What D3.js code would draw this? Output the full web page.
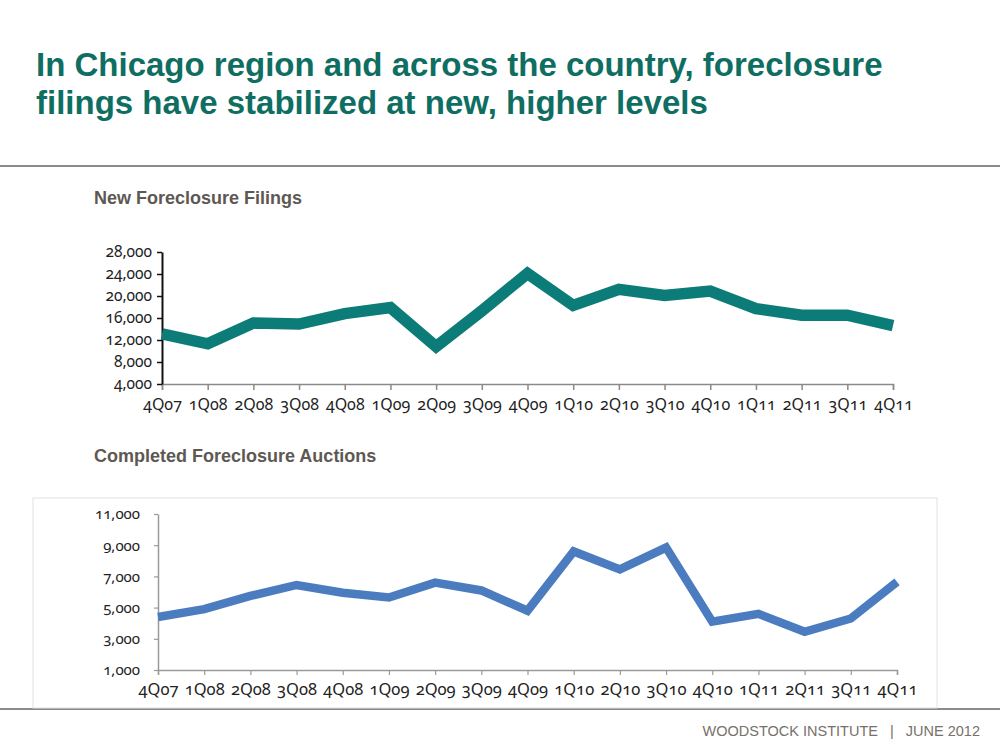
<!DOCTYPE html>
<head>
  <meta charset="utf-8">
  <script src="https://d3js.org/d3.v7.min.js"></script>
  <style>
    html, body { margin: 0; padding: 0; background: #fff; }
    .tick text { font-family: "Noto Sans", "Open Sans", sans-serif; font-variant-numeric: oldstyle-nums; fill: #222; }
  </style>
</head>
<body>
  <div id="chart"></div>
</body>
<script>
  // quarters shared by both charts
  const quarters = ["4Q07","1Q08","2Q08","3Q08","4Q08","1Q09","2Q09","3Q09","4Q09",
                    "1Q10","2Q10","3Q10","4Q10","1Q11","2Q11","3Q11","4Q11"];

  // New foreclosure filings
  const filings = [13100, 11300, 15100, 14900, 16800, 17900, 10800, 17300, 24100,
                   18300, 21200, 20100, 20900, 17700, 16500, 16500, 14600];
  const filingTicks = [4000, 8000, 12000, 16000, 20000, 24000, 28000];

  // Completed foreclosure auctions
  const auctions = [4400, 4900, 5750, 6450, 5950, 5650, 6600, 6100, 4800,
                    8600, 7450, 8850, 4100, 4600, 3450, 4300, 6650];
  const auctionTicks = [1000, 3000, 5000, 7000, 9000, 11000];

  const W = 1000, H = 748;
  const fmt = d3.format(",");

  const svg = d3.select("#chart").append("svg")
    .attr("width", W).attr("height", H);

  // Title
  const title = svg.append("text")
    .style("font-family", "Liberation Sans, Arial, sans-serif")
    .style("font-weight", "bold")
    .style("font-size", "33px")
    .style("fill", "#0f6e62");
  title.append("tspan").attr("x", 36).attr("y", 76)
    .text("In Chicago region and across the country, foreclosure");
  title.append("tspan").attr("x", 36).attr("y", 114)
    .text("filings have stabilized at new, higher levels");

  // rules
  svg.append("line").attr("x1", 0).attr("x2", W).attr("y1", 166).attr("y2", 166)
    .attr("stroke", "#8a8a8a").attr("stroke-width", 2);
  svg.append("line").attr("x1", 0).attr("x2", W).attr("y1", 709).attr("y2", 709)
    .attr("stroke", "#8a8a8a").attr("stroke-width", 2);

  // Footer
  svg.append("text")
    .attr("x", 980).attr("y", 736)
    .attr("text-anchor", "end")
    .attr("xml:space", "preserve")
    .style("font-family", "Liberation Sans, Arial, sans-serif")
    .style("font-size", "14.5px")
    .style("fill", "#77716b")
    .text("WOODSTOCK INSTITUTE   |   JUNE 2012");

  // subtitles
  const subStyle = sel => sel
    .style("font-family", "Liberation Sans Narrow, Arial Narrow, Liberation Sans, sans-serif")
    .style("font-weight", "bold")
    .style("font-size", "18px")
    .style("fill", "#5e5853");
  svg.append("text").attr("x", 94).attr("y", 204).text("New Foreclosure Filings").call(subStyle);
  svg.append("text").attr("x", 94).attr("y", 462).text("Completed Foreclosure Auctions").call(subStyle);

  // ---------- Top chart ----------
  const x1 = d3.scalePoint().domain(quarters).range([162, 893]);
  const y1 = d3.scaleLinear().domain([4000, 28000]).range([384, 252]);

  const g1 = svg.append("g");
  g1.append("g")
    .attr("transform", "translate(0,384)")
    .call(d3.axisBottom(x1).tickSize(6).tickPadding(9))
    .call(g => g.select(".domain").attr("stroke", "#8a8a8a").attr("stroke-width", 1.5))
    .call(g => g.selectAll(".tick line").attr("stroke", "#8a8a8a").attr("stroke-width", 1.5))
    .call(g => g.selectAll(".tick text").style("font-size", "16px"));
  g1.append("g")
    .attr("transform", "translate(162,0)")
    .call(d3.axisLeft(y1).tickValues(filingTicks).tickFormat(fmt).tickSize(5).tickSizeOuter(0).tickPadding(5))
    .call(g => g.select(".domain").attr("stroke", "#111").attr("stroke-width", 2))
    .call(g => g.selectAll(".tick line").attr("stroke", "#111").attr("stroke-width", 1.5))
    .call(g => g.selectAll(".tick text").style("font-size", "15.5px"));

  g1.append("path")
    .datum(filings)
    .attr("fill", "none")
    .attr("stroke", "#0c7c78")
    .attr("stroke-width", 11.5)
    .attr("stroke-linejoin", "miter")
    .attr("d", d3.line().x((d, i) => x1(quarters[i])).y(d => y1(d)));

  // ---------- Bottom chart ----------
  svg.append("rect")
    .attr("x", 33).attr("y", 498).attr("width", 904).attr("height", 210)
    .attr("fill", "#fff").attr("stroke", "#e2e2e2").attr("stroke-width", 1);

  const x2 = d3.scalePoint().domain(quarters).range([158, 897]);
  const y2 = d3.scaleLinear().domain([1000, 11000]).range([670, 514]);

  const g2 = svg.append("g");
  g2.append("g")
    .attr("transform", "translate(0,670)")
    .call(d3.axisBottom(x2).tickSize(5).tickPadding(8))
    .call(g => g.select(".domain").attr("stroke", "#9a9a9a").attr("stroke-width", 1.5))
    .call(g => g.selectAll(".tick line").attr("stroke", "#9a9a9a").attr("stroke-width", 1.2))
    .call(g => g.selectAll(".tick text").style("font-size", "16.5px"));
  g2.append("g")
    .attr("transform", "translate(158,0)")
    .call(d3.axisLeft(y2).tickValues(auctionTicks).tickFormat(fmt).tickSize(4).tickSizeOuter(0).tickPadding(14))
    .call(g => g.select(".domain").attr("stroke", "#9a9a9a").attr("stroke-width", 1.5))
    .call(g => g.selectAll(".tick line").attr("stroke", "#9a9a9a").attr("stroke-width", 1.2))
    .call(g => g.selectAll(".tick text").style("font-size", "15px"));

  g2.append("path")
    .datum(auctions)
    .attr("fill", "none")
    .attr("stroke", "#4a7cbf")
    .attr("stroke-width", 8.5)
    .attr("stroke-linejoin", "miter")
    .attr("d", d3.line().x((d, i) => x2(quarters[i])).y(d => y2(d)));
</script>
